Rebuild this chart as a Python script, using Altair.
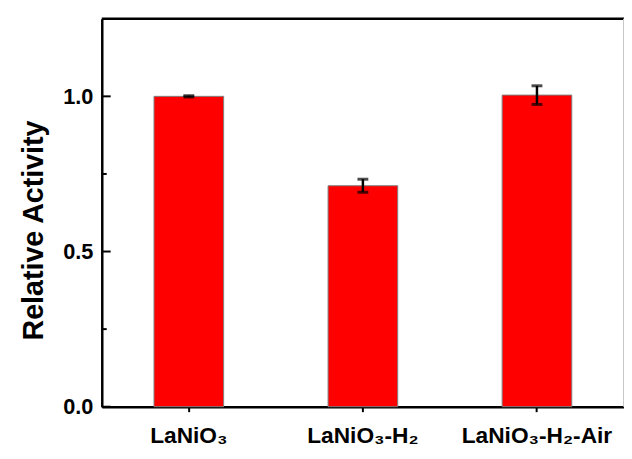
import altair as alt
import pandas as pd

samples = ["LaNiO₃", "LaNiO₃-H₂", "LaNiO₃-H₂-Air"]
activity = [1.0, 0.712, 1.004]
errors = [0.002, 0.021, 0.03]
y_major = [0.0, 0.5, 1.0]
y_minor = [0.25, 0.75]

W, H = 529, 393
FONT = "Liberation Sans"

df = pd.DataFrame({"sample": samples, "activity": activity, "err": errors})
df["lo"] = df["activity"] - df["err"]
df["hi"] = df["activity"] + df["err"]

yscale = alt.Scale(domain=[0, 1.25], nice=False, zero=True)
xscale = alt.Scale(paddingInner=0.6, paddingOuter=0.3)
xaxis = alt.Axis(title=None, labelAngle=0, labelFont=FONT, labelFontSize=23,
                 labelFontWeight="bold", labelColor="black", labelPadding=13,
                 ticks=True, tickSize=5, tickWidth=2, tickColor="black",
                 domainColor="black", domainWidth=2.5)
yaxis = alt.Axis(title="Relative Activity", values=y_major, format=".1f",
                 ticks=False, labelFont=FONT, labelFontSize=22, labelFontWeight="bold",
                 labelColor="black", labelPadding=9, domainColor="black", domainWidth=2.5,
                 grid=False, titleFont=FONT, titleFontSize=29, titleFontWeight="bold",
                 titleColor="black", titleAngle=270, titleX=-60, titleY=214,
                 titleAlign="center", titleBaseline="alphabetic")


def X():
    return alt.X("sample:N", sort=samples, scale=xscale, axis=xaxis)


def Y(f):
    return alt.Y(f, scale=yscale, axis=yaxis)


bars = alt.Chart(df).mark_bar(color="#ff0000", stroke="#7f7f7f", strokeWidth=1).encode(
    x=X(), y=Y("activity:Q"))

err_rule = alt.Chart(df).mark_rule(color="black", strokeWidth=2.5).encode(
    x=X(), y=Y("lo:Q"), y2="hi:Q")
cap_lo = alt.Chart(df).mark_tick(color="black", thickness=3, size=11).encode(
    x=X(), y=Y("lo:Q"))
cap_hi = alt.Chart(df).mark_tick(color="black", thickness=3, size=11).encode(
    x=X(), y=Y("hi:Q"))

major = alt.Chart(pd.DataFrame({"v": y_major})).mark_rule(color="black", strokeWidth=2).encode(
    y=Y("v:Q"), x=alt.value(0), x2=alt.value(9))
minor = alt.Chart(pd.DataFrame({"v": y_minor})).mark_rule(color="black", strokeWidth=2).encode(
    y=Y("v:Q"), x=alt.value(0), x2=alt.value(5))

one = pd.DataFrame({"k": [0]})
top = alt.Chart(one).mark_rule(color="black", strokeWidth=2.5).encode(
    y=alt.value(0), x=alt.value(0), x2=alt.value(W))
right = alt.Chart(one).mark_rule(color="#c8c8c8", strokeWidth=1).encode(
    x=alt.value(W - 0.5), y=alt.value(0), y2=alt.value(H))

chart = alt.layer(bars, err_rule, cap_lo, cap_hi, major, minor, top, right).properties(
    width=W, height=H,
    autosize=alt.AutoSizeParams(type="none"),
    padding={"left": 95, "top": 8, "right": 0, "bottom": 45},
).configure_view(stroke=None).configure(background="white")

chart.save("out.html", embed_options={"renderer": "svg", "actions": False})
